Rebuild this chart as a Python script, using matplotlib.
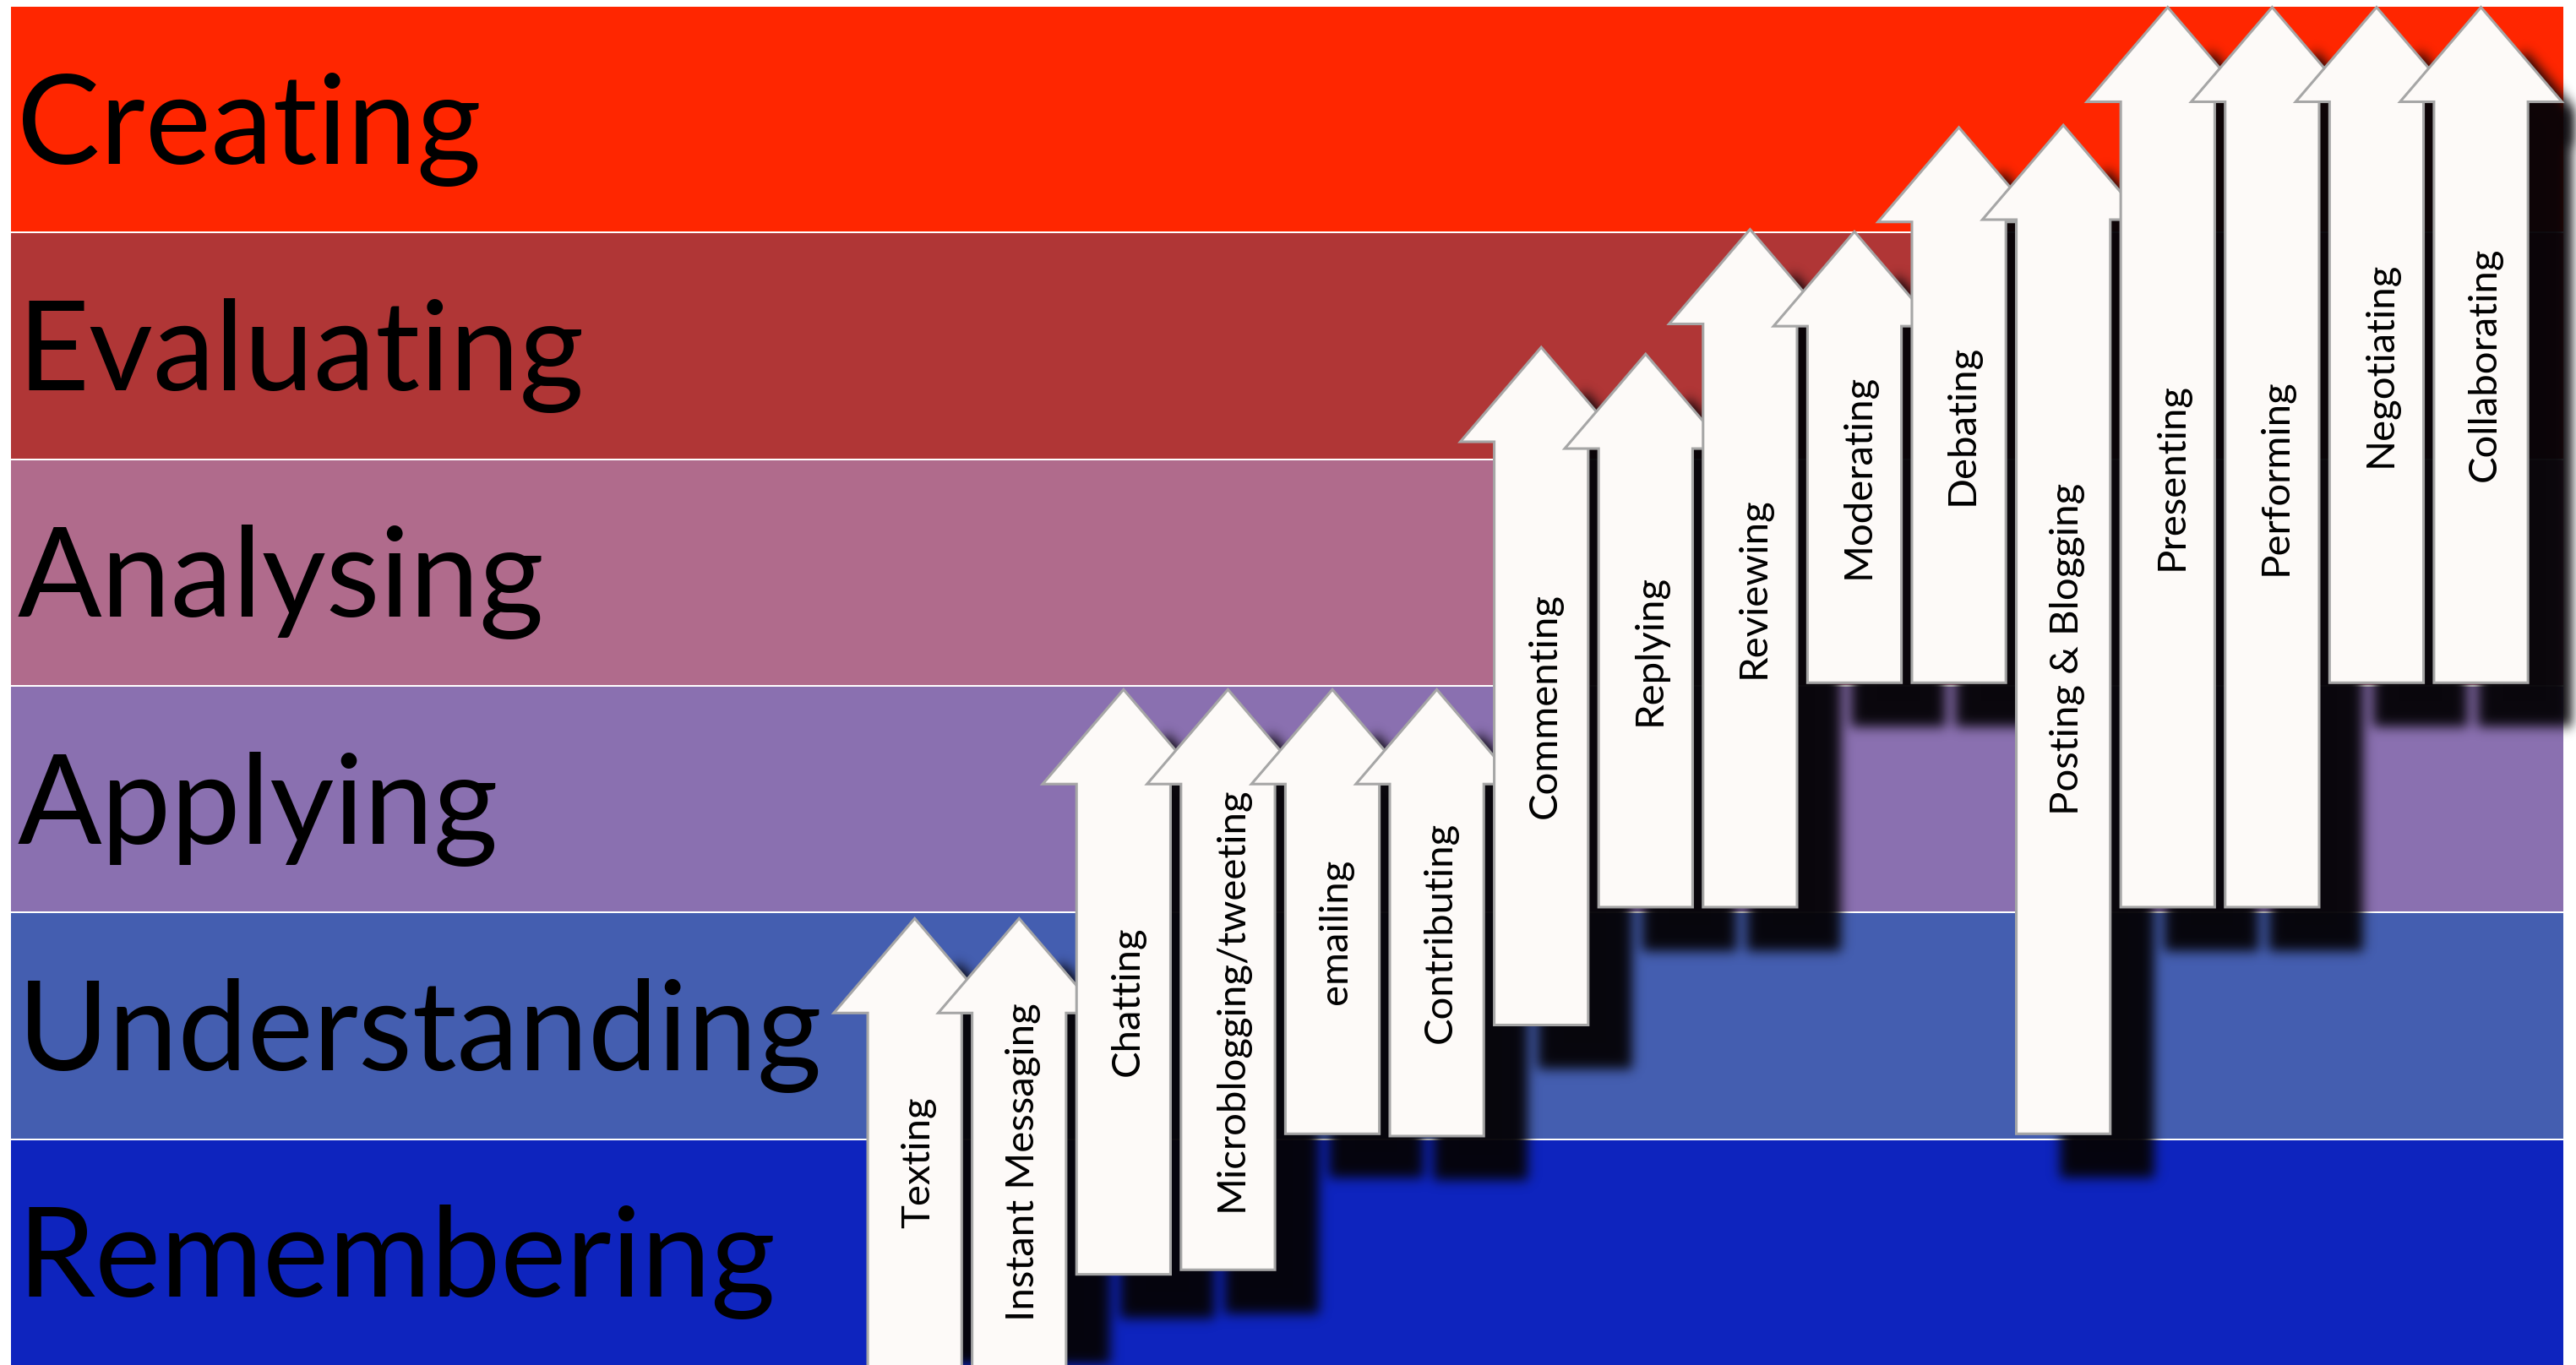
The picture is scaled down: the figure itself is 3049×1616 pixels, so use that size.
import numpy as np
import matplotlib
matplotlib.use("Agg")
import matplotlib.pyplot as plt
from matplotlib.patches import Polygon
from matplotlib.collections import PolyCollection

plt.rcParams['font.family'] = ['Lato', 'DejaVu Sans']

# Bloom's levels, bottom to top
levels = ["Remembering", "Understanding", "Applying", "Analysing", "Evaluating", "Creating"]
level_colors = ["#0e24be", "#445eb0", "#8a70b0", "#b06b8c", "#b03636", "#ff2600"]

# activities, left to right, and the span (in levels) each arrow covers
activities = ["Texting", "Instant Messaging", "Chatting", "Microblogging/tweeting",
              "emailing", "Contributing", "Commenting", "Replying", "Reviewing",
              "Moderating", "Debating", "Posting & Blogging", "Presenting",
              "Performing", "Negotiating", "Collaborating"]
arrow_top = [1.97, 1.97, 2.98, 2.98, 2.98, 2.98, 4.49, 4.46,
             5.01, 5.00, 5.46, 5.47, 5.99, 5.99, 5.99, 5.99]
arrow_bottom = [-0.01, -0.01, 0.40, 0.42, 1.02, 1.01, 1.50, 2.02,
                2.02, 3.01, 3.01, 1.02, 2.02, 2.02, 3.01, 3.01]

# look
shaft_w = 0.90
head_w = 1.55
head_h = 0.417
shadow_dx, shadow_dy = 0.42, -0.194
shadow_rgb = (0.02, 0.012, 0.03)
arrow_face = "#fdfaf8"
arrow_edge = "#a6a6a6"
band_left, band_right = -8.655, 15.79
band_gap = 0.008


def soft_blur(sigma, rgb):
    # gaussian blur of the alpha only, for a drop shadow via agg_filter
    pad = int(3 * sigma)
    offs = np.arange(-pad, pad + 1)
    kern = np.exp(-0.5 * (offs / sigma) ** 2)
    kern /= kern.sum()

    def _filter(im, dpi):
        a = np.pad(im[..., 3], pad).astype(np.float32)
        tmp = np.zeros_like(a)
        for k, w in zip(offs, kern):
            tmp += w * np.roll(a, k, axis=0)
        blurred = np.zeros_like(a)
        for k, w in zip(offs, kern):
            blurred += w * np.roll(tmp, k, axis=1)
        out = np.zeros(a.shape + (4,), dtype=np.float32)
        out[..., 0], out[..., 1], out[..., 2] = rgb
        out[..., 3] = blurred
        return out, -pad, -pad
    return _filter


def arrow_outline(x, top, bottom):
    base = top - head_h
    return [(x, top), (x + head_w / 2, base), (x + shaft_w / 2, base),
            (x + shaft_w / 2, bottom), (x - shaft_w / 2, bottom),
            (x - shaft_w / 2, base), (x - head_w / 2, base)]


fig = plt.figure(figsize=(30.49, 16.16), dpi=100)
ax = fig.add_axes([0, 0, 1, 1])
ax.set_xlim(-8.76, 15.91)
ax.set_ylim(0, 6.022)
ax.axis("off")

# level bands
ax.barh(np.arange(len(levels)), band_right - band_left, left=band_left,
        height=1 - band_gap, align="edge", color=level_colors, linewidth=0, zorder=1)
for k, name in enumerate(levels):
    ax.text(band_left + 0.06, k + 0.30, name, fontsize=106, color="black",
            ha="left", va="baseline", zorder=2)

# shadows under all arrows
shadows = []
for i in range(len(activities)):
    pts = arrow_outline(i, arrow_top[i], arrow_bottom[i])
    shadows.append([(px + shadow_dx, py + shadow_dy) for px, py in pts])
shade = PolyCollection(shadows, facecolors="black", edgecolors="none", alpha=0.97, zorder=3)
shade.set_agg_filter(soft_blur(5, shadow_rgb))
ax.add_collection(shade)

# arrows, left to right so later heads overlap earlier ones
for i, name in enumerate(activities):
    arr = Polygon(arrow_outline(i, arrow_top[i], arrow_bottom[i]), closed=True,
                  facecolor=arrow_face, edgecolor=arrow_edge, linewidth=2.2,
                  joinstyle="miter", zorder=4 + i * 0.01)
    ax.add_patch(arr)
    mid = (arrow_top[i] + arrow_bottom[i]) / 2 - 0.086
    ax.text(i + 0.036, mid, name, rotation=90, fontsize=34, fontweight="normal",
            color="black", ha="center", va="center", zorder=5)

fig.savefig("out.png", dpi=100, facecolor="white")
